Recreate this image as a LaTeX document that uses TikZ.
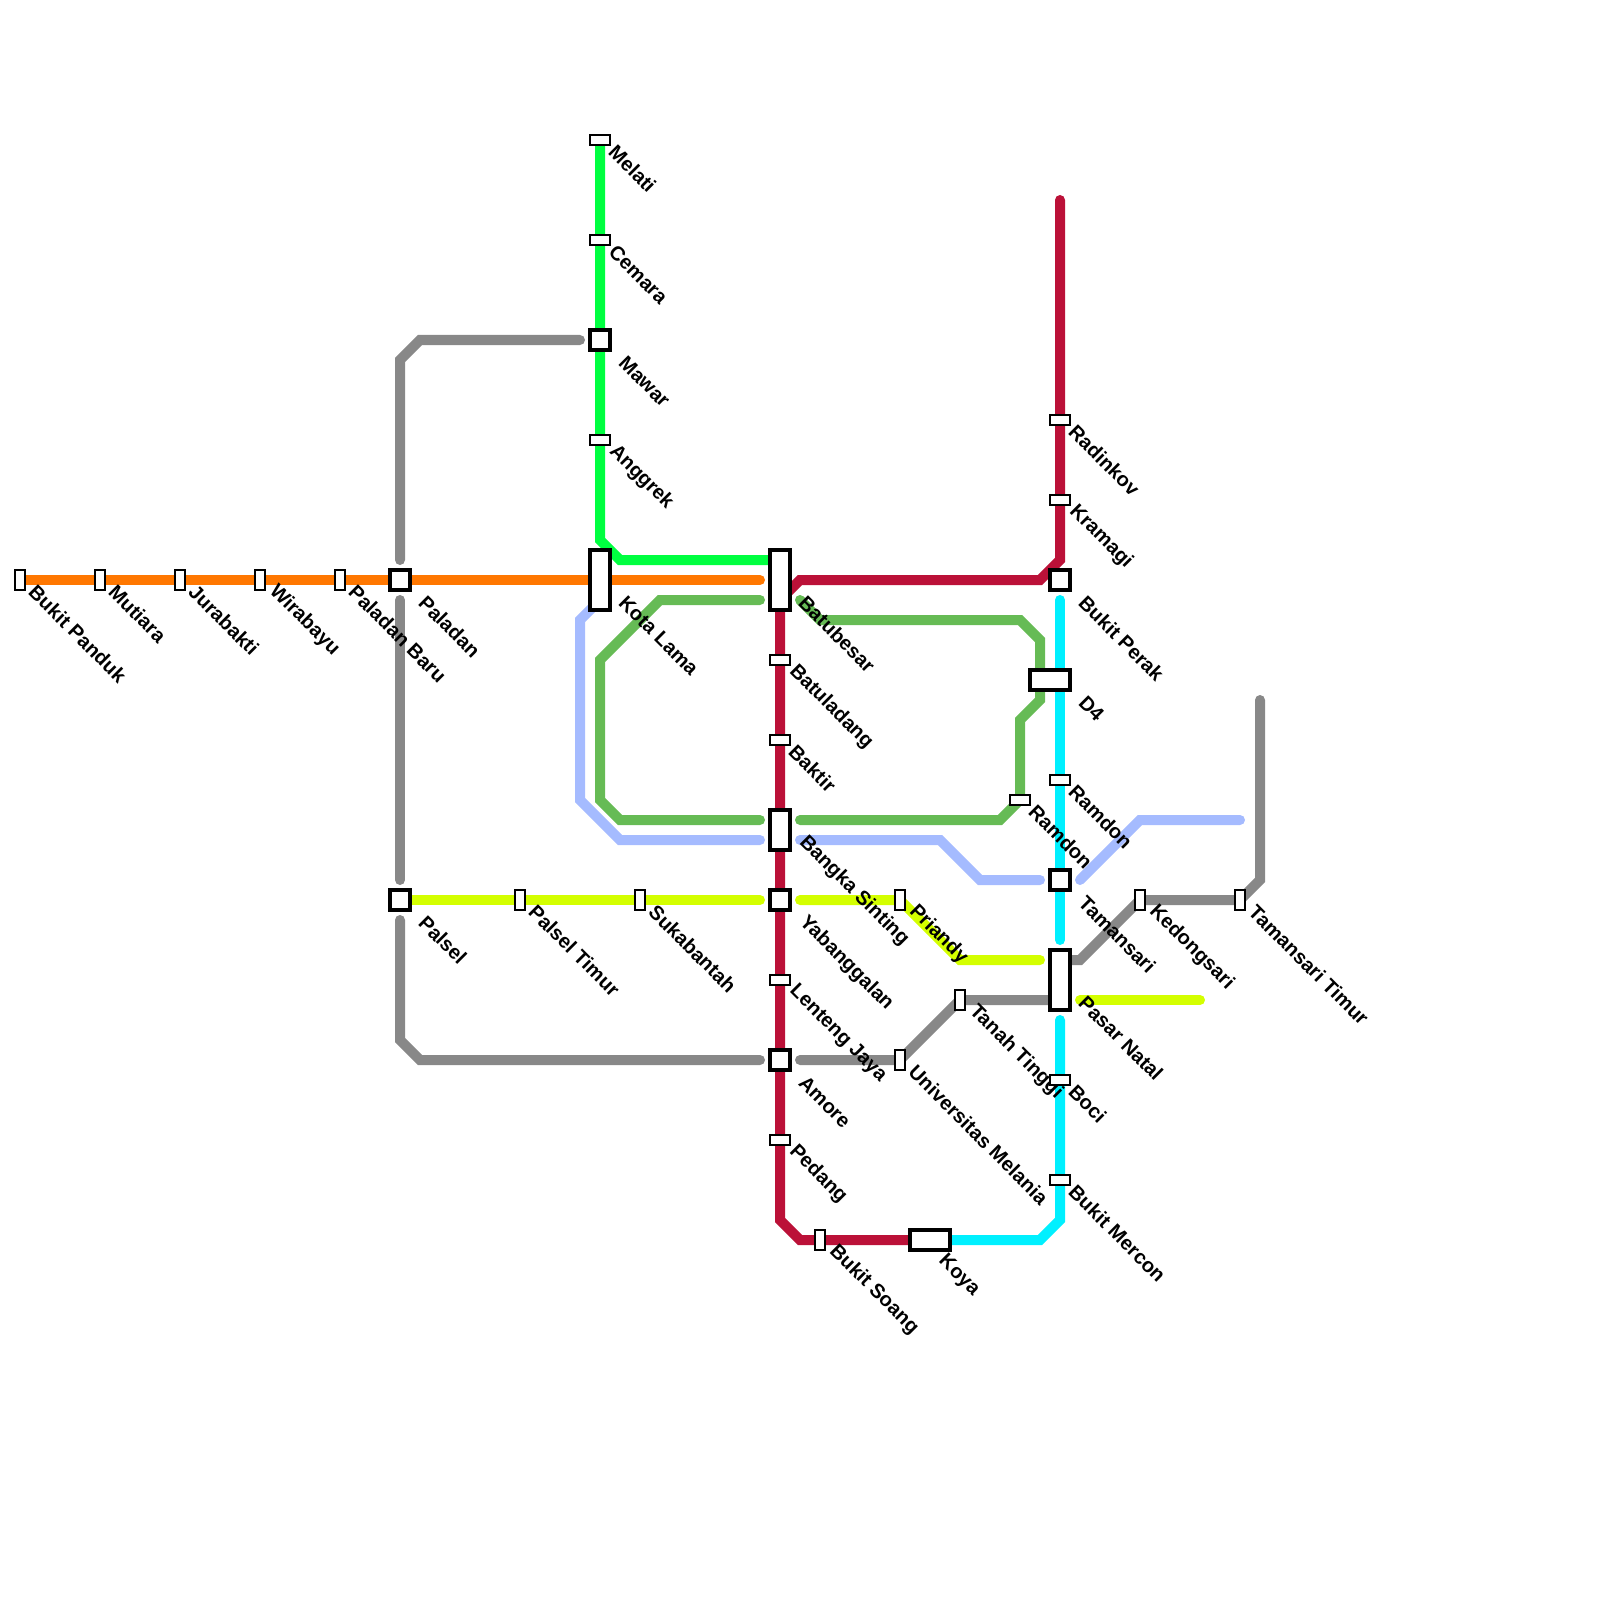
\documentclass[tikz,border=0pt]{standalone}
\usepackage{fontspec}
\setmainfont{Liberation Sans}
\usetikzlibrary{backgrounds}
\definecolor{MetroOrange}{HTML}{FF7700}
\definecolor{MetroLime}{HTML}{00FF40}
\definecolor{MetroGreen}{HTML}{66BB55}
\definecolor{MetroCrimson}{HTML}{BB1138}
\definecolor{MetroCyan}{HTML}{00F0FF}
\definecolor{MetroBlue}{HTML}{A5BBFF}
\definecolor{MetroYellow}{HTML}{D4FF00}
\definecolor{MetroGray}{HTML}{888888}

\begin{document}
\begin{tikzpicture}[
  x=0.01cm, y=-0.01cm,
  metro/.style={line width=1mm, line cap=round, line join=miter},
  halt/.style={draw=black, fill=white, line width=0.2mm, inner sep=0pt, outer sep=0pt},
  halttall/.style={halt, minimum width=0.1cm, minimum height=0.2cm},
  haltwide/.style={halt, minimum width=0.2cm, minimum height=0.1cm},
  hub/.style={draw=black, fill=white, line width=0.4mm, inner sep=0pt, outer sep=0pt,
              minimum width=0.2cm, minimum height=0.2cm},
  hubtall/.style={hub, minimum height=0.6cm},
  hubmid/.style={hub, minimum height=0.4cm},
  hubwide/.style={hub, minimum width=0.4cm},
  stationname/.style={font=\bfseries\fontsize{5.7}{7}\selectfont, anchor=west, rotate=-45,
                      inner sep=0pt, text=black},
]
\useasboundingbox (0,0) rectangle (1600,1600);

% --- Small stations ---
\foreach \n/\x/\y/\t in {%
  bukit-panduk/20/580/Bukit Panduk, mutiara/100/580/Mutiara, jurabakti/180/580/Jurabakti,
  wirabayu/260/580/Wirabayu, paladan-baru/340/580/Paladan Baru,
  palsel-timur/520/900/Palsel Timur, sukabantah/640/900/Sukabantah, priandy/900/900/Priandy,
  tanah-tinggi/960/1000/Tanah Tinggi, univ-melania/900/1060/Universitas Melania,
  kedongsari/1140/900/Kedongsari, tamansari-timur/1240/900/Tamansari Timur,
  bukit-soang/820/1240/Bukit Soang} {
  \node[halttall] (\n) at (\x,\y) {};
  \node[stationname] (\n-name) at (\x+12,\y+8) {\t};
}
\foreach \n/\x/\y/\t in {%
  melati/600/140/Melati, cemara/600/240/Cemara, anggrek/600/440/Anggrek,
  batuladang/780/660/Batuladang, baktir/780/740/Baktir, lenteng-jaya/780/980/Lenteng Jaya,
  pedang/780/1140/Pedang, radinkov/1060/420/Radinkov, kramagi/1060/500/Kramagi,
  ramdon-east/1060/780/Ramdon, ramdon-west/1020/800/Ramdon, boci/1060/1080/Boci,
  bukit-mercon/1060/1180/Bukit Mercon} {
  \node[haltwide] (\n) at (\x,\y) {};
  \node[stationname] (\n-name) at (\x+12,\y+8) {\t};
}

% --- Interchanges ---
\foreach \n/\x/\y/\t in {%
  paladan/400/580/Paladan, palsel/400/900/Palsel, mawar/600/340/Mawar,
  yabanggalan/780/900/Yabanggalan, amore/780/1060/Amore,
  bukit-perak/1060/580/Bukit Perak, tamansari/1060/880/Tamansari} {
  \node[hub] (\n) at (\x,\y) {};
  \node[stationname] (\n-name) at (\x+22,\y+19) {\t};
}
\node[hubtall] (kota-lama) at (600,580) {};
\node[stationname] (kota-lama-name) at (622,599) {Kota Lama};
\node[hubtall] (batubesar) at (780,580) {};
\node[stationname] (batubesar-name) at (802,599) {Batubesar};
\node[hubmid] (bangka-sinting) at (780,830) {};
\node[stationname] (bangka-sinting-name) at (802,839) {Bangka Sinting};
\node[hubtall] (pasar-natal) at (1060,980) {};
\node[stationname] (pasar-natal-name) at (1082,999) {Pasar Natal};
\node[hubwide] (d4) at (1050,680) {};
\node[stationname] (d4-name) at (1082,699) {D4};
\node[hubwide] (koya) at (930,1240) {};
\node[stationname] (koya-name) at (941,1258) {Koya};

% --- Bends and loose ends ---
\foreach \n/\x/\y in {%
  lime-a/600/540, lime-b/620/560, lime-c/780/560,
  orange-end/760/580,
  crimson-top/1060/200, crimson-a/1060/560, crimson-b/1040/580, crimson-c/800/580,
  crimson-d/780/600, crimson-e/780/1220, crimson-f/800/1240,
  cyan-top/1060/600, cyan-a/1060/940, cyan-b/1060/1020, cyan-c/1060/1220, cyan-d/1040/1240,
  green-a/760/600, green-b/660/600, green-c/600/660, green-d/600/800, green-e/620/820,
  green-f/760/820, green-g/800/600, green-h/820/620, green-i/1020/620, green-j/1040/640,
  green-k/1040/700, green-l/1020/720, green-m/1000/820, green-n/800/820,
  blue-a/600/600, blue-b/580/620, blue-c/580/800, blue-d/620/840, blue-e/760/840,
  blue-f/800/840, blue-g/940/840, blue-h/980/880, blue-i/1040/880,
  blue-j/1080/880, blue-k/1140/820, blue-l/1240/820,
  yellow-a/760/900, yellow-b/800/900, yellow-c/960/960, yellow-d/1040/960,
  yellow-e/1080/1000, yellow-f/1200/1000,
  gray-a/580/340, gray-b/420/340, gray-c/400/360, gray-d/400/560, gray-e/400/600,
  gray-f/400/880, gray-g/400/920, gray-h/400/1040, gray-i/420/1060, gray-j/760/1060,
  gray-k/800/1060, gray-l/1060/1000, gray-m/1060/960, gray-n/1080/960,
  gray-o/1260/880, gray-p/1260/700} {
  \coordinate (\n) at (\x,\y);
}

% --- Lines, under the stations ---
\begin{scope}[on background layer]
\draw[metro, color=MetroOrange] (bukit-panduk.center) -- (paladan.center) -- (kota-lama.center) -- (orange-end);
\draw[metro, color=MetroLime] (melati.center) -- (mawar.center) -- (lime-a) -- (lime-b) -- (lime-c);

\draw[metro, color=MetroCyan] (cyan-top) -- (cyan-a);
\draw[metro, color=MetroCyan] (cyan-b) -- (cyan-c) -- (cyan-d) -- (koya.center);
\draw[metro, color=MetroCrimson] (crimson-top) -- (crimson-a) -- (crimson-b) -- (crimson-c)
  -- (crimson-d) -- (crimson-e) -- (crimson-f) -- (koya.center);

\draw[metro, color=MetroGreen] (green-a) -- (green-b) -- (green-c) -- (green-d) -- (green-e) -- (green-f);
\draw[metro, color=MetroGreen] (green-g) -- (green-h) -- (green-i) -- (green-j) -- (green-k)
  -- (green-l) -- (ramdon-west.center) -- (green-m) -- (green-n);

\draw[metro, color=MetroBlue] (blue-a) -- (blue-b) -- (blue-c) -- (blue-d) -- (blue-e);
\draw[metro, color=MetroBlue] (blue-f) -- (blue-g) -- (blue-h) -- (blue-i);
\draw[metro, color=MetroBlue] (blue-j) -- (blue-k) -- (blue-l);

\draw[metro, color=MetroYellow] (palsel.center) -- (yellow-a);
\draw[metro, color=MetroYellow] (yellow-b) -- (priandy.center) -- (yellow-c) -- (yellow-d);
\draw[metro, color=MetroYellow] (yellow-e) -- (yellow-f);

\draw[metro, color=MetroGray] (gray-a) -- (gray-b) -- (gray-c) -- (gray-d);
\draw[metro, color=MetroGray] (gray-e) -- (gray-f);
\draw[metro, color=MetroGray] (gray-g) -- (gray-h) -- (gray-i) -- (gray-j);
\draw[metro, color=MetroGray] (gray-k) -- (univ-melania.center) -- (tanah-tinggi.center) -- (gray-l);
\draw[metro, color=MetroGray] (gray-m) -- (gray-n) -- (kedongsari.center) -- (tamansari-timur.center)
  -- (gray-o) -- (gray-p);
\end{scope}

\end{tikzpicture}
\end{document}
